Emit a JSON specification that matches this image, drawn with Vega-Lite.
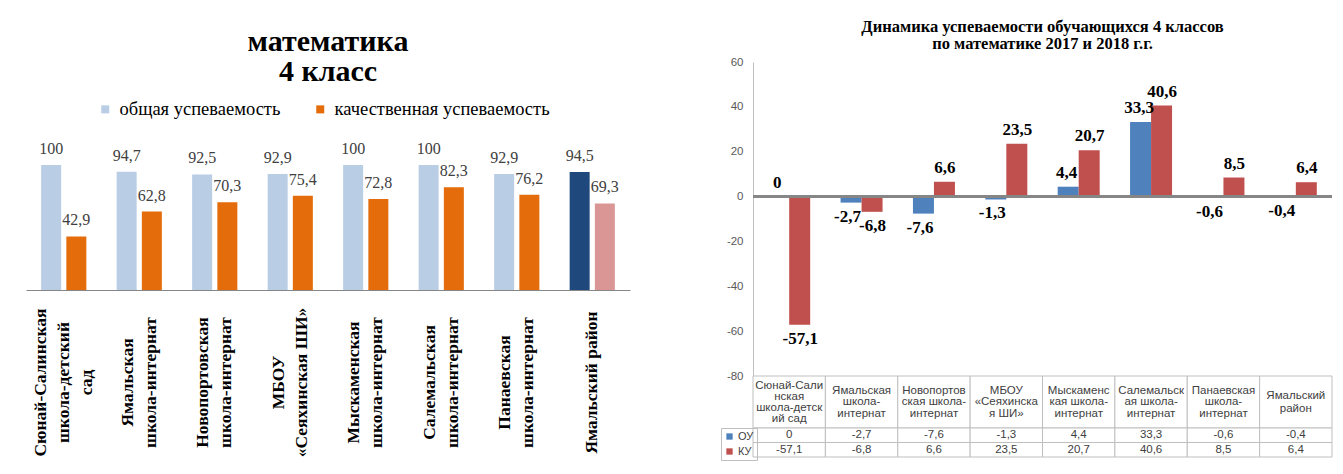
{
  "$schema": "https://vega.github.io/schema/vega-lite/v6.json",
  "background": "white",
  "padding": {"left": 26, "top": 18, "right": 5, "bottom": 5},
  "config": {
    "locale": {"number": {"decimal": ",", "thousands": " ", "grouping": [3], "currency": ["", ""], "minus": "-"}},
    "view": {"stroke": null},
    "axis": {"labelFont": "Liberation Sans"}
  },
  "datasets": {
    "perf": [
      {"school": "Сюнай-Салинская\nшкола-детский\nсад", "общая успеваемость": 100, "качественная успеваемость": 42.9},
      {"school": "Ямальская\nшкола-интернат", "общая успеваемость": 94.7, "качественная успеваемость": 62.8},
      {"school": "Новопортовская\nшкола-интернат", "общая успеваемость": 92.5, "качественная успеваемость": 70.3},
      {"school": "МБОУ\n«Сеяхинская ШИ»", "общая успеваемость": 92.9, "качественная успеваемость": 75.4},
      {"school": "Мыскаменская\nшкола-интернат", "общая успеваемость": 100, "качественная успеваемость": 72.8},
      {"school": "Салемальская\nшкола-интернат", "общая успеваемость": 100, "качественная успеваемость": 82.3},
      {"school": "Панаевская\nшкола-интернат", "общая успеваемость": 92.9, "качественная успеваемость": 76.2},
      {"school": "Ямальский район", "общая успеваемость": 94.5, "качественная успеваемость": 69.3}
    ],
    "dyn": [
      {"school": "Сюнай-Салинская школа-детский сад", "head": "Сюнай-Сали\nнская\nшкола-детск\nий сад", "ОУ": 0, "КУ": -57.1},
      {"school": "Ямальская школа-интернат", "head": "Ямальская\nшкола-\nинтернат", "ОУ": -2.7, "КУ": -6.8},
      {"school": "Новопортовская школа-интернат", "head": "Новопортов\nская школа-\nинтернат", "ОУ": -7.6, "КУ": 6.6},
      {"school": "МБОУ «Сеяхинская ШИ»", "head": "МБОУ\n«Сеяхинска\nя ШИ»", "ОУ": -1.3, "КУ": 23.5},
      {"school": "Мыскаменская школа-интернат", "head": "Мыскаменс\nкая школа-\nинтернат", "ОУ": 4.4, "КУ": 20.7},
      {"school": "Салемальская школа-интернат", "head": "Салемальск\nая школа-\nинтернат", "ОУ": 33.3, "КУ": 40.6},
      {"school": "Панаевская школа-интернат", "head": "Панаевская\nшкола-\nинтернат", "ОУ": -0.6, "КУ": 8.5},
      {"school": "Ямальский район", "head": "Ямальский\nрайон", "ОУ": -0.4, "КУ": 6.4}
    ]
  },
  "resolve": {"scale": {"color": "independent"}, "legend": {"color": "independent"}},
  "spacing": 90,
  "hconcat": [
    {
      "width": 604,
      "height": 228,
      "title": {"text": ["математика", "4 класс"], "font": "Liberation Serif", "fontSize": 30, "fontWeight": "bold", "color": "#000000", "lineHeight": 30, "anchor": "middle", "offset": -25},
      "data": {"name": "perf"},
      "transform": [{"fold": ["общая успеваемость", "качественная успеваемость"], "as": ["series", "value"]}],
      "encoding": {
        "x": {
          "field": "school", "type": "nominal",
          "scale": {"domain": ["Сюнай-Салинская\nшкола-детский\nсад", "Ямальская\nшкола-интернат", "Новопортовская\nшкола-интернат", "МБОУ\n«Сеяхинская ШИ»", "Мыскаменская\nшкола-интернат", "Салемальская\nшкола-интернат", "Панаевская\nшкола-интернат", "Ямальский район"], "paddingInner": 0.4, "paddingOuter": 0.2},
          "axis": {"title": null, "labelExpr": "split(datum.value, '\\n')", "labelAngle": 270, "labelAlign": "center", "labelBaseline": "middle", "labelPadding": 92,
            "labelOffset": {"condition": [{"test": "length(split(datum.value, '\\n')) === 3", "value": -23}, {"test": "length(split(datum.value, '\\n')) === 2", "value": -11.5}], "value": 0},
            "ticks": false, "labelFont": "Liberation Serif", "labelFontWeight": "bold", "labelFontSize": 17.5, "labelLineHeight": 23, "labelColor": "#000000", "domainColor": "#868686", "labelLimit": 0, "labelOverlap": false}
        },
        "y": {"field": "value", "type": "quantitative", "scale": {"domain": [0, 182.4]}, "axis": null}
      },
      "layer": [
        {
          "transform": [{"filter": "datum.series === 'общая успеваемость'"}],
          "mark": {"type": "bar", "width": 20, "xOffset": -12.6},
          "encoding": {
            "color": {
              "condition": [{"test": "datum.school === 'Ямальский район'", "value": "#1F497D"}],
              "field": "series", "type": "nominal",
              "scale": {"domain": ["общая успеваемость", "качественная успеваемость"], "range": ["#B9CDE5", "#E46C0A"]},
              "legend": {"title": null, "orient": "none", "legendX": 70, "legendY": 38, "direction": "horizontal", "symbolType": "square", "symbolSize": 64, "symbolStrokeWidth": 0, "labelFont": "Liberation Serif", "labelFontSize": 18.5, "labelColor": "#000000", "columnPadding": 30, "labelOffset": 5, "labelLimit": 0}
            }
          }
        },
        {
          "transform": [{"filter": "datum.series === 'качественная успеваемость'"}],
          "mark": {"type": "bar", "width": 20, "xOffset": 12.6},
          "encoding": {
            "color": {
              "condition": [{"test": "datum.school === 'Ямальский район'", "value": "#D99694"}],
              "field": "series", "type": "nominal",
              "scale": {"domain": ["общая успеваемость", "качественная успеваемость"], "range": ["#B9CDE5", "#E46C0A"]}
            }
          }
        },
        {
          "transform": [{"filter": "datum.series === 'общая успеваемость'"}],
          "mark": {"type": "text", "baseline": "bottom", "dy": -8, "xOffset": -12.6, "font": "Liberation Serif", "fontSize": 16, "color": "#404040"},
          "encoding": {"text": {"field": "value", "type": "quantitative", "format": "~g"}}
        },
        {
          "transform": [{"filter": "datum.series === 'качественная успеваемость'"}],
          "mark": {"type": "text", "baseline": "bottom", "dy": -8, "xOffset": 12.6, "font": "Liberation Serif", "fontSize": 16, "color": "#404040"},
          "encoding": {"text": {"field": "value", "type": "quantitative", "format": "~g"}}
        }
      ]
    },
    {
      "spacing": 0,
      "bounds": "flush",
      "resolve": {"scale": {"x": "independent", "y": "independent"}},
      "vconcat": [
        {
          "width": 579,
          "height": 314,
          "title": {"text": ["Динамика успеваемости обучающихся  4 классов", "по математике  2017 и 2018 г.г."], "font": "Liberation Serif", "fontSize": 16.5, "fontWeight": "bold", "lineHeight": 17, "anchor": "middle", "offset": 4, "color": "#000000"},
          "data": {"name": "dyn"},
          "transform": [{"fold": ["ОУ", "КУ"], "as": ["series", "value"]}],
          "encoding": {
            "x": {"field": "school", "type": "nominal", "scale": {"domain": ["Сюнай-Салинская школа-детский сад", "Ямальская школа-интернат", "Новопортовская школа-интернат", "МБОУ «Сеяхинская ШИ»", "Мыскаменская школа-интернат", "Салемальская школа-интернат", "Панаевская школа-интернат", "Ямальский район"], "paddingInner": 0.43, "paddingOuter": 0.215}, "axis": null},
            "y": {"field": "value", "type": "quantitative", "scale": {"domain": [-80, 60]}, "axis": {"title": null, "values": [-80, -60, -40, -20, 0, 20, 40, 60], "ticks": false, "grid": false, "labelFontSize": 11.5, "labelColor": "#595959", "domainColor": "#BFBFBF", "labelPadding": 10, "format": "d"}},
            "color": {"field": "series", "type": "nominal", "scale": {"domain": ["ОУ", "КУ"], "range": ["#4F81BD", "#C0504D"]},
              "legend": {"title": null, "orient": "none", "legendX": -32, "legendY": 366, "direction": "vertical", "symbolType": "square", "symbolSize": 40, "symbolStrokeWidth": 0, "labelFont": "Liberation Sans", "labelFontSize": 11, "labelColor": "#404040", "labelOffset": 3, "rowPadding": 3, "padding": 3, "strokeColor": "#BFBFBF"}}
          },
          "layer": [
            {
              "transform": [{"filter": "datum.series === 'ОУ'"}],
              "mark": {"type": "bar", "width": 21, "xOffset": -10.5}
            },
            {
              "transform": [{"filter": "datum.series === 'КУ'"}],
              "mark": {"type": "bar", "width": 21, "xOffset": 10.5}
            },
            {
              "mark": {"type": "rule", "color": "#868686", "strokeWidth": 2},
              "encoding": {"x": null, "color": null, "y": {"datum": 0}}
            },
            {
              "transform": [{"filter": "datum.series === 'ОУ' && datum.value >= 0"}],
              "mark": {"type": "text", "baseline": "bottom", "dy": -5, "xOffset": -12, "font": "Liberation Serif", "fontSize": 17, "fontWeight": "bold", "color": "#000000"},
              "encoding": {"color": null, "text": {"field": "value", "type": "quantitative", "format": "~g"}}
            },
            {
              "transform": [{"filter": "datum.series === 'КУ' && datum.value >= 0"}],
              "mark": {"type": "text", "baseline": "bottom", "dy": -5, "xOffset": 11, "font": "Liberation Serif", "fontSize": 17, "fontWeight": "bold", "color": "#000000"},
              "encoding": {"color": null, "text": {"field": "value", "type": "quantitative", "format": "~g"}}
            },
            {
              "transform": [{"filter": "datum.series === 'ОУ' && datum.value < 0"}],
              "mark": {"type": "text", "baseline": "top", "dy": 6, "xOffset": -14, "font": "Liberation Serif", "fontSize": 17, "fontWeight": "bold", "color": "#000000"},
              "encoding": {"color": null, "text": {"field": "value", "type": "quantitative", "format": "~g"}}
            },
            {
              "transform": [{"filter": "datum.series === 'КУ' && datum.value < 0"}],
              "mark": {"type": "text", "baseline": "top", "dy": 6, "xOffset": 11, "font": "Liberation Serif", "fontSize": 17, "fontWeight": "bold", "color": "#000000"},
              "encoding": {"color": null, "text": {"field": "value", "type": "quantitative", "format": "~g"}}
            }
          ]
        },
        {
          "width": 579,
          "height": 52,
          "data": {"name": "dyn"},
          "encoding": {
            "x": {"field": "school", "type": "nominal", "scale": {"domain": ["Сюнай-Салинская школа-детский сад", "Ямальская школа-интернат", "Новопортовская школа-интернат", "МБОУ «Сеяхинская ШИ»", "Мыскаменская школа-интернат", "Салемальская школа-интернат", "Панаевская школа-интернат", "Ямальский район"], "paddingInner": 0, "paddingOuter": 0}, "axis": null}
          },
          "layer": [
            {"mark": {"type": "rect", "fill": "white", "stroke": "#BFBFBF", "strokeWidth": 1}},
            {"transform": [{"filter": "length(split(datum.head, '\\n')) === 4"}],
             "mark": {"type": "text", "font": "Liberation Sans", "fontSize": 11.5, "lineHeight": 11, "dy": -16.5, "color": "#404040", "lineBreak": "\n"}, "encoding": {"text": {"field": "head"}}},
            {"transform": [{"filter": "length(split(datum.head, '\\n')) === 3"}],
             "mark": {"type": "text", "font": "Liberation Sans", "fontSize": 11.5, "lineHeight": 11.5, "dy": -11.5, "color": "#404040", "lineBreak": "\n"}, "encoding": {"text": {"field": "head"}}},
            {"transform": [{"filter": "length(split(datum.head, '\\n')) === 2"}],
             "mark": {"type": "text", "font": "Liberation Sans", "fontSize": 11.5, "lineHeight": 13, "dy": -6.5, "color": "#404040", "lineBreak": "\n"}, "encoding": {"text": {"field": "head"}}}
          ]
        },
        {
          "width": 579,
          "height": 29,
          "data": {"name": "dyn"},
          "transform": [{"fold": ["ОУ", "КУ"], "as": ["series", "value"]}],
          "encoding": {
            "x": {"field": "school", "type": "nominal", "scale": {"domain": ["Сюнай-Салинская школа-детский сад", "Ямальская школа-интернат", "Новопортовская школа-интернат", "МБОУ «Сеяхинская ШИ»", "Мыскаменская школа-интернат", "Салемальская школа-интернат", "Панаевская школа-интернат", "Ямальский район"], "paddingInner": 0, "paddingOuter": 0}, "axis": null},
            "y": {"field": "series", "type": "nominal", "sort": ["ОУ", "КУ"], "scale": {"paddingInner": 0, "paddingOuter": 0}, "axis": null}
          },
          "layer": [
            {"mark": {"type": "rect", "fill": "white", "stroke": "#BFBFBF", "strokeWidth": 1}},
            {"mark": {"type": "text", "font": "Liberation Sans", "fontSize": 11.5, "color": "#404040"}, "encoding": {"text": {"field": "value", "type": "quantitative", "format": "~g"}}}
          ]
        }
      ]
    }
  ]
}
